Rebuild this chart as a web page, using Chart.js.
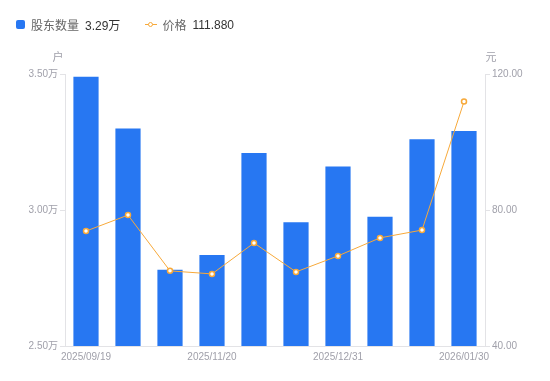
<!DOCTYPE html>
<html><head><meta charset="utf-8">
<script src="https://cdn.jsdelivr.net/npm/chart.js@4/dist/chart.umd.min.js"></script>
<style>
html,body{margin:0;padding:0;background:#fff;}
#wrap{position:relative;width:550px;height:381px;}
#legend{position:absolute;left:16px;top:16px;font:12px "Liberation Sans","Noto Sans CJK SC",sans-serif;color:#333;display:flex;align-items:center;white-space:nowrap;}
.sw{display:inline-block;width:9px;height:9px;background:#2777F2;border-radius:2px;margin-right:6px;}
.nm{color:#666;margin-right:6px;}
.li{display:inline-block;position:relative;width:12px;height:9px;margin-right:5px;}
.li:before{content:"";position:absolute;left:0;right:0;top:4px;height:1px;background:#F7A93A;}
.li:after{content:"";position:absolute;left:3px;top:1.5px;width:3px;height:3px;border:1.5px solid #F7A93A;border-radius:50%;background:#fff;}
</style></head>
<body><div id="wrap"><canvas id="c" width="550" height="381"></canvas>
<div id="legend"><span class="sw"></span><span class="nm">股东数量</span><span style="margin-right:25px">3.29万</span><span class="li"></span><span class="nm">价格</span><span>111.880</span></div></div>
<script>
const categories = ["2025/09/19","2025/09/30","2025/10/31","2025/11/20","2025/11/28","2025/12/10","2025/12/31","2026/01/09","2026/01/20","2026/01/30"];
const holders = [3.49, 3.30, 2.78, 2.835, 3.21, 2.955, 3.16, 2.975, 3.26, 3.29];
const prices = [73.8, 78.5, 62.1, 61.2, 70.3, 61.8, 66.5, 71.8, 74.1, 111.88];
const leftTicks = [2.5, 3.0, 3.5];
const rightTicks = [40, 80, 120];

const tickFont = {family:'"Liberation Sans","Noto Sans CJK SC",sans-serif', size:10};
const tickColor = '#a0a0aa';
const axisColor = '#e3e3e6';

const unitPlugin = {
  id:'units',
  afterDraw(chart){
    const ctx = chart.ctx, a = chart.chartArea;
    ctx.save();
    ctx.font = '11px "Liberation Sans","Noto Sans CJK SC",sans-serif';
    ctx.fillStyle = '#a0a0aa';
    ctx.textBaseline = 'middle';
    ctx.textAlign = 'center';
    ctx.fillText('户', a.left - 7, a.top - 16);
    ctx.fillText('元', a.right + 6, a.top - 16);
    ctx.restore();
  }
};

new Chart(document.getElementById('c'), {
  data: {
    labels: categories,
    datasets: [
      {type:'line', label:'价格', data:prices, yAxisID:'y1', borderColor:'#F7A93A', borderWidth:1,
       pointRadius:2.5, pointBorderWidth:1.5, pointBackgroundColor:'#fff', pointBorderColor:'#F7A93A', tension:0, order:0},
      {type:'bar', label:'股东数量', data:holders, yAxisID:'y', backgroundColor:'#2777F2',
       categoryPercentage:0.6, barPercentage:1.0, order:1}
    ]
  },
  options: {
    responsive:false, animation:false,
    layout:{padding:{top:74, left:0, right:0, bottom:0}},
    plugins:{legend:{display:false}, tooltip:{enabled:false}},
    scales:{
      x:{
        grid:{display:true, drawOnChartArea:false, drawTicks:false, color:axisColor},
        border:{color:axisColor},
        ticks:{autoSkip:false, maxRotation:0, font:tickFont, color:tickColor, padding:5,
          callback:function(v,i){ return i%3===0 ? categories[i] : ''; }},
        afterFit(s){ s.height = 35; }
      },
      y:{
        position:'left', min:2.5, max:3.5,
        afterBuildTicks(s){ s.ticks = leftTicks.map(v=>({value:v})); },
        grid:{drawOnChartArea:false, color:axisColor, tickLength:5},
        border:{color:axisColor},
        ticks:{font:tickFont, color:tickColor, padding:2, callback:v=>v.toFixed(2)+'万'},
        afterFit(s){ s.width = 65; }
      },
      y1:{
        position:'right', min:40, max:120,
        afterBuildTicks(s){ s.ticks = rightTicks.map(v=>({value:v})); },
        grid:{drawOnChartArea:false, color:axisColor, tickLength:5},
        border:{color:axisColor},
        ticks:{font:tickFont, color:tickColor, padding:2, callback:v=>v.toFixed(2)},
        afterFit(s){ s.width = 65; }
      }
    }
  },
  plugins:[unitPlugin]
});
</script></body></html>
